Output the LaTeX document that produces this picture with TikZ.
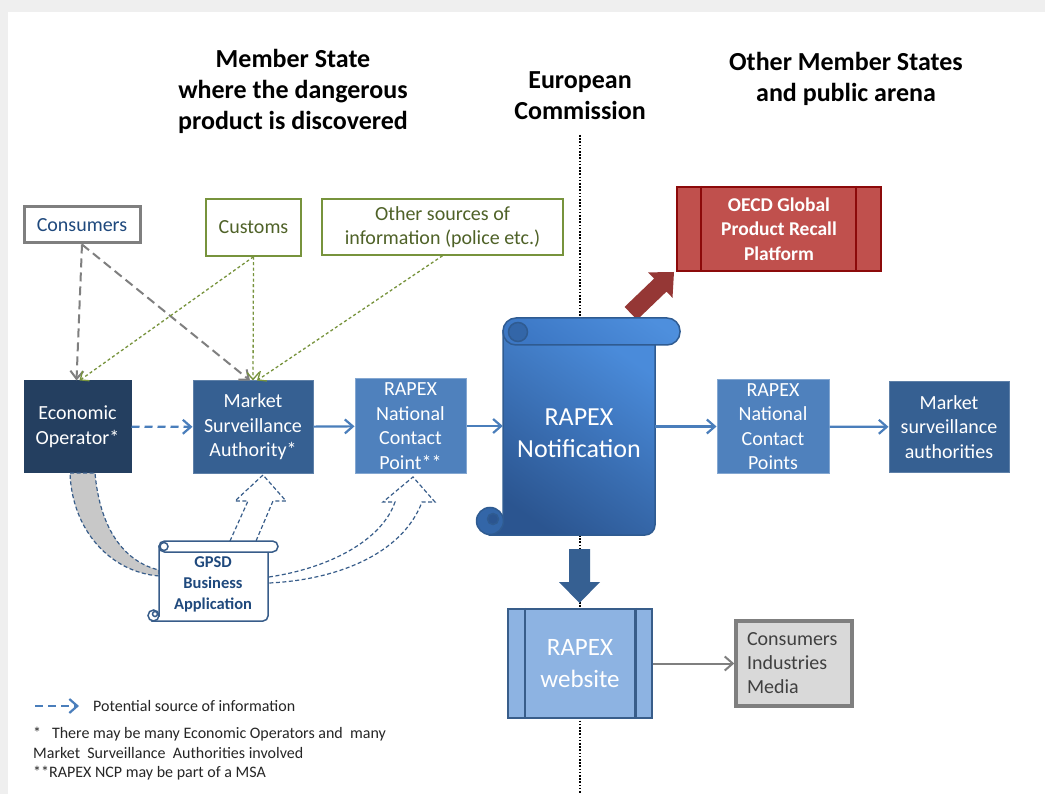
\documentclass[tikz,border=0pt]{standalone}
\usepackage{fontspec}
\setmainfont{Carlito}
\usetikzlibrary{arrows.meta}

\begin{document}
\begin{tikzpicture}[x=1pt, y=-1pt,
  every node/.style={inner sep=0pt},
  titletext/.style={align=center, font=\bfseries\fontsize{26}{31}\selectfont},
  bluebox/.style={rectangle, align=center, text=white, line width=1pt, font=\fontsize{20}{24.5}\selectfont},
  srcbox/.style={rectangle, draw=srcgreen, line width=1.5pt, fill=white, align=center, text=srctext, font=\fontsize{20}{24}\selectfont},
  notetext/.style={anchor=west, text=black!85, font=\fontsize{16}{20}\selectfont},
  flow/.style={-{Straight Barb[length=8pt,width=14pt]}, draw=flowblue, line width=2.2pt},
  hint/.style={flow, dash pattern=on 8pt off 5pt},
  greyhint/.style={-{Straight Barb[length=8pt,width=13pt]}, draw=hintgrey, line width=2pt, dash pattern=on 9pt off 5pt},
  greenhint/.style={-{Straight Barb[length=7pt,width=12pt]}, draw=srcgreen, line width=1.3pt, dash pattern=on 3pt off 2.5pt},
  ghost/.style={draw=rimblue, line width=1.2pt, dash pattern=on 4pt off 2.5pt},
  rim/.style={draw=#1, line width=1.5pt}
]
\definecolor{navy}{HTML}{243F60}
\definecolor{msablue}{HTML}{366092}
\definecolor{ncpblue}{HTML}{4F81BD}
\definecolor{flowblue}{HTML}{4A7EBB}
\definecolor{rimblue}{HTML}{385D8A}
\definecolor{webblue}{HTML}{8DB3E2}
\definecolor{srcgreen}{HTML}{77933C}
\definecolor{srctext}{HTML}{4F6228}
\definecolor{hintgrey}{HTML}{7F7F7F}
\definecolor{cimfill}{HTML}{D9D9D9}
\definecolor{cimtext}{HTML}{404040}
\definecolor{oecdred}{HTML}{C0504D}
\definecolor{oecdrim}{HTML}{8C0A0A}
\definecolor{pushred}{HTML}{953735}
\definecolor{inkblue}{HTML}{1F497D}
\definecolor{bandgrey}{HTML}{C8C8C8}
\definecolor{paper}{HTML}{EFEFEF}
\definecolor{scrolltop}{HTML}{4A8BDA}
\definecolor{scrollbot}{HTML}{2B5590}
\definecolor{scrollrim}{HTML}{2F5B91}
\definecolor{scrollcurl}{HTML}{3366A8}
\definecolor{rolltop}{HTML}{4E8FDD}
\definecolor{rollbot}{HTML}{3C77C4}

\useasboundingbox (0,0) rectangle (1045,794);
\fill[paper] (0,0) rectangle (1045,794);
\fill[white] (8,12) rectangle (1045,794);

% column titles
\node[titletext] (home) at (293,91) {Member State\\where the dangerous\\product is discovered};
\node[titletext] (ec) at (580,96) {European\\Commission};
\node[titletext] (abroad) at (846,79) {Other Member States\\and public arena};

% border between the Member State and the others
\coordinate (cuttop) at (580,135);
\coordinate (cutbot) at (580,794);
\draw[line width=1.8pt, dash pattern=on 1.6pt off 1.6pt] (cuttop) -- (cutbot);

% push to the OECD platform
\fill[pushred] (624.6,306.9) -- (654.1,278.6) -- (648.1,272.4) -- (674,272) -- (672.5,297.8) -- (666.5,291.6) -- (637,319.9) -- cycle;

% RAPEX notification scroll
\shade[top color=scrolltop, bottom color=scrollbot, shading angle=-35, rim=scrollrim] (490,535) [rounded corners=10pt] -- (655,535) -- (655,331) [sharp corners] -- (503,331) -- (503,521) -- cycle;
\draw[rim=scrollrim, fill=scrollcurl] (490,521) circle[radius=13.5pt];
\draw[rim=scrollrim, fill=scrollbot] (493,519) circle[radius=5.5pt];
\shade[top color=rolltop, bottom color=rollbot, shading angle=-35, rim=scrollrim, rounded corners=13pt] (503,318) rectangle (680,345);
\draw[rim=scrollrim, fill=scrollcurl] (518,332) circle[radius=9.5pt];
\node[font=\fontsize{26}{32}\selectfont, text=white, align=center, minimum width=152pt, minimum height=204pt] (notif) at (579,433) {RAPEX\\Notification};

% sources of information
\node[srcbox, draw=hintgrey, line width=3pt, text=inkblue, minimum width=116pt, minimum height=36pt] (consumers) at (82,225) {Consumers};
\node[srcbox, minimum width=95pt, minimum height=57pt] (customs) at (253.5,227.5) {Customs};
\node[srcbox, minimum width=241pt, minimum height=56pt] (other) at (442.5,227) {Other sources of\\information (police etc.)};

% actors
\node[bluebox, fill=navy, draw=navy, minimum width=107pt, minimum height=91pt] (eo) at (77.5,426.5) {Economic\\Operator*};
\node[bluebox, fill=msablue, draw=msablue!80!white, minimum width=120pt, minimum height=92pt] (msa) at (253,427) {Market\\Surveillance\\Authority*};
\node[bluebox, fill=ncpblue, draw=ncpblue!70!white, minimum width=111pt, minimum height=94pt] (ncp) at (410.5,426) {RAPEX\\National\\Contact\\Point**};
\node[bluebox, fill=ncpblue, draw=ncpblue!70!white, minimum width=112pt, minimum height=93pt] (ncps) at (773,426.5) {RAPEX\\National\\Contact\\Points};
\node[bluebox, fill=msablue, draw=msablue!80!white, minimum width=120pt, minimum height=90pt] (msas) at (949,427) {Market\\surveillance\\authorities};

% OECD platform
\node[draw=oecdrim, line width=2pt, fill=oecdred, minimum width=204pt, minimum height=84pt, text=white, align=center, font=\bfseries\fontsize{19.5}{24.5}\selectfont] (oecd) at (779,229) {OECD Global\\Product Recall\\Platform};
\draw[oecdrim, line width=2pt] ([xshift=25pt]oecd.north west) -- ([xshift=25pt]oecd.south west);
\draw[oecdrim, line width=2pt] ([xshift=-26pt]oecd.north east) -- ([xshift=-26pt]oecd.south east);

% website and public
\fill[msablue] (569,549) -- (590,549) -- (590,582) -- (600,582) -- (579.5,603) -- (559,582) -- (569,582) -- cycle;
\node[draw=rimblue, line width=2.5pt, fill=webblue, minimum width=144pt, minimum height=109pt, text=white, align=center, font=\fontsize{25}{32}\selectfont] (web) at (580,663.5) {RAPEX\\website};
\draw[rimblue, line width=2.5pt] ([xshift=18pt]web.north west) -- ([xshift=18pt]web.south west);
\draw[rimblue, line width=2.5pt] ([xshift=-18pt]web.north east) -- ([xshift=-18pt]web.south east);
\node[draw=hintgrey, line width=3.5pt, fill=cimfill, minimum height=85pt, inner xsep=11pt, text width=94pt, align=left, text=cimtext, font=\fontsize{20}{24}\selectfont] (cim) at (794,663.5) {Consumers\\Industries\\Media};

% GPSD business application
\draw[ghost, fill=bandgrey] (70,473) -- (95,473) .. controls (100,530) and (125,562) .. (159,570) -- (159,576) .. controls (110,572) and (72,530) .. (70,473) -- cycle;
\draw[ghost] (230,541) -- (248,501) -- (235,501) -- (263,475) -- (286,501) -- (273,501) -- (256,541);
\draw[ghost] (269,577) .. controls (330,568) and (382,540) .. (395,502) -- (383,502) -- (413,477) -- (435,502) -- (422,502) .. controls (402,555) and (335,580) .. (269,583);
\draw[rim=rimblue, fill=white] (153,621) [rounded corners=5pt] -- (268,621) -- (268,546) [sharp corners] -- (159,546) -- (159,616) -- cycle;
\draw[rim=rimblue, fill=white] (153.5,615.5) circle[radius=5.5pt];
\draw[rim=rimblue, fill=white] (155,614) circle[radius=2.5pt];
\draw[rim=rimblue, fill=white, rounded corners=5.5pt] (159,541) rectangle (278,552);
\draw[rim=rimblue, fill=white] (164,546.5) circle[radius=4pt];
\node[text=inkblue, align=center, font=\bfseries\fontsize{16.5}{21}\selectfont] (gpsd) at (213,584) {GPSD\\Business\\Application};

% information flows
\draw[greyhint] (consumers.south) -- ([xshift=-1pt]eo.north);
\draw[greyhint] (consumers.south) -- ([xshift=-3pt]msa.north);
\draw[greenhint] (customs.south) -- ([xshift=2pt]eo.north);
\draw[greenhint] (customs.south) -- (msa.north);
\draw[greenhint] (other.south) -- ([xshift=4pt]msa.north);
\draw[hint] (eo) -- (msa);
\draw[flow] (msa) -- (ncp);
\draw[flow] (ncp.east) -- (ncp.east -| notif.west);
\draw[flow] (notif.east |- ncps.west) -- (ncps.west);
\draw[flow] (ncps) -- (msas);
\draw[flow, draw=hintgrey, line width=2pt] (web) -- (cim);

% key and notes
\coordinate (keyfrom) at (35,706);
\coordinate (keyto) at (79,706);
\draw[hint] (keyfrom) -- (keyto);
\node[notetext] (keytext) at (93,706) {Potential source of information};
\node[notetext] (note1) at (33,734) {*\ \ \ There may be many Economic Operators and\ \ many};
\node[notetext] (note2) at (33,753) {Market\ \ Surveillance\ \ Authorities involved};
\node[notetext] (note3) at (33,773) {**RAPEX NCP may be part of a MSA};
\end{tikzpicture}
\end{document}
